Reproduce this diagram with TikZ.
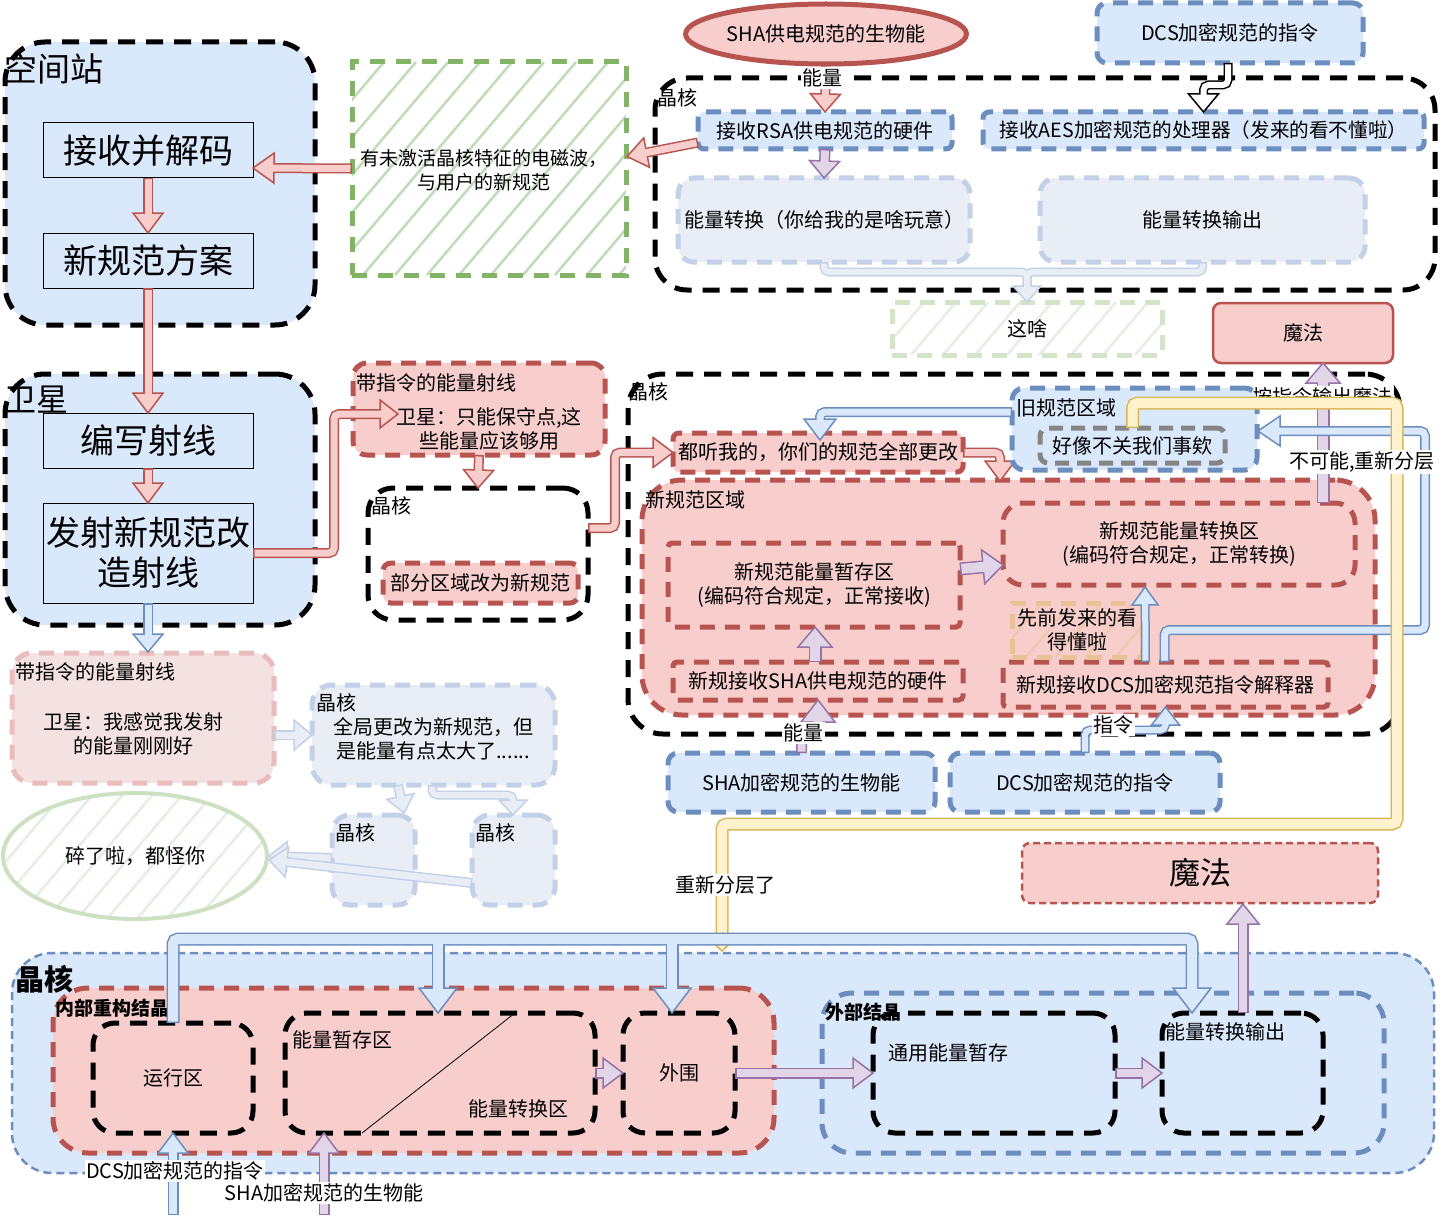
\documentclass[tikz,border=0pt]{standalone}
\usepackage{fontspec}
\setmainfont{Noto Sans CJK SC}
\usetikzlibrary{calc,shapes.geometric}
\definecolor{blueF}{HTML}{DAE8FC}
\definecolor{blueS}{HTML}{6C8EBF}
\definecolor{redF}{HTML}{F8CECC}
\definecolor{redS}{HTML}{B85450}
\definecolor{greenS}{HTML}{82B366}
\definecolor{greenF}{HTML}{D5E8D4}
\definecolor{purpleF}{HTML}{E1D5E7}
\definecolor{purpleS}{HTML}{9673A6}
\definecolor{yellowF}{HTML}{FFF2CC}
\definecolor{yellowS}{HTML}{D6B656}
\definecolor{fadeF}{HTML}{E8EDF6}
\definecolor{fadeS}{HTML}{C3D1E8}
\definecolor{fadeRF}{HTML}{F4E2E2}
\definecolor{fadeRS}{HTML}{E8BDBB}
\definecolor{grayS}{HTML}{858585}
\newcommand\fs[2]{\fontsize{#1}{#2}\selectfont}
% flex arrow pieces
\newcommand\FAo[4]{\draw[draw=#1, line width=#2pt+3pt, shorten >=#3pt-1pt, rounded corners=5pt] #4;}
\newcommand\FAi[4]{\draw[draw=#1, line width=#2pt, shorten >=#3pt-2.5pt, shorten <=1.5pt, rounded corners=5pt] #4;}
\newcommand\FAh[6]{\filldraw[fill=#1, draw=#2, line width=1.5pt, line join=miter] let \p1=($#6-#5$), \n1={atan2(\y1,\x1)} in #6 -- ($#6+(\n1+180:#4pt)+(\n1+90:#3pt)$) -- ($#6+(\n1+180:#4pt)+(\n1-90:#3pt)$) -- cycle;}
% fill, stroke, shaft, head half width, head length, path, prev point, tip
\newcommand\FA[8]{\FAo{#2}{#3}{#5}{#6}\FAh{#1}{#2}{#4}{#5}{#7}{#8}\FAi{#1}{#3}{#5}{#6}}
\newcommand\hatchlines[6]{\foreach \k in {0,...,#6}{\draw[draw=#4, line width=2.5pt] ({#1+\k*#5},#2) -- ++({0.85*#3},{-#3});}}
\tikzset{
 box/.style={anchor=north west, inner sep=0pt, outer sep=0pt, align=center},
 blk/.style={draw=black, line width=5pt, dash pattern=on 17pt off 11pt},
 bdash/.style={draw=blueS, line width=5pt, dash pattern=on 15pt off 10pt},
 rdash/.style={draw=redS, line width=5pt, dash pattern=on 15pt off 10pt},
 fdash/.style={draw=fadeS, line width=5pt, dash pattern=on 15pt off 10pt},
 lbl/.style={anchor=north west, inner sep=0pt, outer sep=0pt},
 tag/.style={fill=white, inner sep=1.5pt},
 sz/.style 2 args={minimum width=#1, minimum height=#2},
 sbox/.style={box, draw=black, line width=1pt, fill=blueF, font=\fs{34}{40}},
}
\begin{document}
\begin{tikzpicture}[x=1pt,y=-1pt,font=\fs{20}{24}]
\useasboundingbox (0,0) rectangle (1447,1225);
\fill[white] (0,0) rectangle (1447,1225);

% ---------- space station
\node[box,blk,fill=blueF,rounded corners=40pt,sz={310}{283}] (st) at (5,42) {};
\node[lbl,font=\fs{33}{36}] (stL) at (5,54) {空间站};
\node[sbox,sz={210}{55}] (recv) at (43,123) {接收并解码};
\node[sbox,sz={210}{55}] (plan) at (43,233) {新规范方案};

% ---------- satellite
\node[box,blk,fill=blueF,rounded corners=40pt,sz={310}{251}] (sat) at (5,374) {};
\node[lbl,font=\fs{32}{36}] (satL) at (5,386) {卫星};
\node[sbox,sz={210}{55}] (write) at (43,413) {编写射线};
\node[sbox,sz={210}{100}] (fire) at (43,503) {发射新规范改\\造射线};

\FA{redF}{redS}{7}{15}{20}{(recv.south) -- (plan.north)}{(recv.south)}{(plan.north)}
\FA{redF}{redS}{7}{15}{20}{(plan.south) -- (write.north)}{(plan.south)}{(write.north)}
\FA{redF}{redS}{7}{15}{20}{(write.south) -- (fire.north)}{(write.south)}{(fire.north)}

% ---------- green hatched wave box
\begin{scope}\clip (352,62) rectangle (626,275); \hatchlines{171}{275}{213}{greenF!75!greenS}{32}{15}\end{scope}
\node[box,draw=greenS,line width=5pt,dash pattern=on 15pt off 11pt,sz={274}{213}] (em) at (352,62) {};
\node[align=center,font=\fs{19}{24}] (emT) at (484,170) {有未激活晶核特征的电磁波，\\与用户的新规范};
\coordinate (t3) at (253,168);
\FA{redF}{redS}{7}{15}{21}{(em.west) -- (t3)}{(em.west)}{(t3)}

% ---------- ray with command
\node[box,rdash,fill=redF,rounded corners=14pt,sz={252}{92}] (cmd1) at (353,363) {};
\node[lbl] (cmd1L) at (356,374) {带指令的能量射线};
\node[align=center] (cmd1T) at (489,429) {卫星：只能保守点,这\\些能量应该够用};
\coordinate (t1) at (398,414);
\coordinate (t1p) at (370,414);
\FA{redF}{redS}{7}{14}{18}{(fire.east) -- ++(81,0) |- (t1)}{(t1p)}{(t1)}

\node[box,blk,rounded corners=25pt,sz={220}{132}] (core1) at (368,488) {};
\node[lbl] (core1L) at (371,497) {晶核};
\node[box,rdash,fill=redF,rounded corners=8pt,sz={195}{40}] (part) at (383,563) {部分区域改为新规范};
\FA{redF}{redS}{7}{15}{18}{(cmd1.south) -- (core1.north)}{(cmd1.south)}{(core1.north)}

% ---------- faded branch
\node[box,draw=fadeRS,line width=5pt,dash pattern=on 15pt off 10pt,fill=fadeRF,rounded corners=20pt,sz={262}{130}] (fcmd) at (12,653) {};
\node[lbl] (fcmdL) at (15,663) {带指令的能量射线};
\node[align=center] (fcmdT) at (133,734) {卫星：我感觉我发射\\的能量刚刚好};
\coordinate (t2) at (148,652);
\FA{blueF}{blueS}{7}{15}{18}{(fire.south) -- (t2)}{(fire.south)}{(t2)}

\node[box,fdash,fill=fadeF,rounded corners=20pt,sz={243}{100}] (fcore) at (312,685) {};
\node[lbl] (fcoreL) at (316,694) {晶核};
\node[align=center] (fcoreT) at (433,739) {全局更改为新规范，但\\是能量有点太大了......};
\coordinate (f0) at ($(fcmd.east)+(0,17)$);
\FA{fadeF}{fadeS}{7}{15}{18}{(f0) -- (fcore.west)}{(f0)}{(fcore.west)}

\node[box,fdash,fill=fadeF,rounded corners=18pt,sz={83}{90}] (fcA) at (332,815) {};
\node[lbl] (fcAL) at (335,824) {晶核};
\node[box,fdash,fill=fadeF,rounded corners=18pt,sz={83}{90}] (fcB) at (472,815) {};
\node[lbl] (fcBL) at (475,824) {晶核};
\coordinate (f1) at ($(fcore.south west)+(86,0)$);
\coordinate (t11) at (404,813);
\FA{fadeF}{fadeS}{7}{14}{17}{(f1) -- (t11)}{(f1)}{(t11)}
\coordinate (f2) at ($(fcore.south west)+(120,0)$);
\coordinate (t12) at (513,815);
\coordinate (f2b) at (513,795);
\FA{fadeF}{fadeS}{6}{14}{15}{(f2) |- (f2b) -- (t12)}{(f2b)}{(t12)}

\begin{scope}\clip (135,856) ellipse[x radius=132, y radius=63]; \hatchlines{-104}{920}{126}{greenF!70!white}{30}{13}\end{scope}
\node[ellipse,draw=greenS!40,line width=4pt,sz={264}{126},inner sep=0pt] (broken) at (135,856) {碎了啦，都怪你};
\coordinate (f3) at ($(fcA.west)+(0,-2)$);
\FA{fadeF}{fadeS}{7}{15}{18}{(f3) -- (broken.east)}{(f3)}{(broken.east)}
\coordinate (f4) at ($(fcB.west)+(0,23)$);
\coordinate (t13) at ($(broken.east)+(0,4)$);
\FA{fadeF}{fadeS}{7}{15}{18}{(f4) -- (t13)}{(f4)}{(t13)}

% ---------- top core
\node[box,blk,rounded corners=32pt,sz={780}{212}] (core0) at (655,78) {};
\node[lbl] (core0L) at (657,89) {晶核};
\node[ellipse,draw=redS,fill=redF,line width=5pt,sz={266}{60},inner sep=0pt] (sha1) at (826,34) {SHA供电规范的生物能};
\node[box,bdash,fill=blueF,rounded corners=10pt,sz={266}{60}] (dcs1) at (1097,3) {DCS加密规范的指令};
\node[box,bdash,fill=blueF,rounded corners=6pt,sz={254}{37}] (rsa) at (698,112) {接收RSA供电规范的硬件};
\node[box,bdash,fill=blueF,rounded corners=6pt,sz={441}{37},font=\fs{19.6}{24}] (aes) at (983,112) {接收AES加密规范的处理器（发来的看不懂啦）};
\node[box,fdash,fill=fadeF,rounded corners=16pt,sz={292}{84}] (conv0) at (678,178) {能量转换（你给我的是啥玩意）};
\node[box,fdash,fill=fadeF,rounded corners=16pt,sz={325}{84}] (out0) at (1040,178) {能量转换输出};
\begin{scope}\clip (892,302) rectangle (1162,355); \hatchlines{847}{355}{53}{greenF!70!white}{32}{10}\end{scope}
\node[box,draw=greenS!35,line width=5pt,dash pattern=on 15pt off 10pt,sz={270}{53}] (what) at (892,302) {这啥};
\node[box,draw=redS,fill=redF,line width=2.5pt,rounded corners=8pt,sz={180}{60}] (magic1) at (1213,303) {魔法};

\FA{redF}{redS}{7}{15}{18}{(sha1.south) -- (rsa.north)}{(sha1.south)}{(rsa.north)}
\node[tag] (e1) at (822,78) {能量};
\coordinate (w0) at ($(dcs1.south)+(-2,0)$);
\coordinate (w1) at ($(aes.north)+(0,-27)$);
\FA{white}{black}{6}{15}{18}{(w0) |- (w1) -- (aes.north)}{(w1)}{(aes.north)}
\FA{purpleF}{purpleS}{8}{15}{17}{(rsa.south) -- (conv0.north)}{(rsa.south)}{(conv0.north)}
\coordinate (r0) at ($(rsa.west)+(0,12)$);
\coordinate (r1) at ($(em.east)+(1,-12)$);
\FA{redF}{redS}{7}{15}{20}{(r0) -- (r1)}{(r0)}{(r1)}
\coordinate (j1) at ($(what.north)+(0,-30)$);
\FAo{fadeS}{6}{16}{(conv0.south) |- (j1) -- (what.north)}
\FAo{fadeS}{6}{16}{(out0.south) |- (j1) -- (what.north)}
\FAh{fadeF}{fadeS}{14}{16}{(j1)}{(what.north)}
\FAi{fadeF}{6}{16}{(conv0.south) |- (j1) -- (what.north)}
\FAi{fadeF}{6}{16}{(out0.south) |- (j1) -- (what.north)}

% ---------- right middle core
\node[box,blk,rounded corners=35pt,sz={772}{360}] (core2) at (628,374) {};
\node[lbl] (core2L) at (628,383) {晶核};
\node[box,rdash,fill=redF,rounded corners=6pt,sz={290}{39}] (tell) at (673,433) {都听我的，你们的规范全部更改};
\coordinate (c0) at ($(core1.east)+(0,-26)$);
\coordinate (c1) at ($(tell.west)+(-30,0)$);
\FA{redF}{redS}{7}{15}{20}{(c0) -- ++(27,0) |- (tell.west)}{(c1)}{(tell.west)}

\node[box,rdash,fill=redF,rounded corners=40pt,sz={733}{235}] (newz) at (642,480) {};
\node[lbl] (newzL) at (645,491) {新规范区域};
\coordinate (t5) at (1000,481);
\coordinate (t5p) at (1000,452);
\FA{redF}{redS}{7}{15}{20}{(tell.east) -| (t5)}{(t5p)}{(t5)}

\node[box,rdash,rounded corners=4pt,sz={292}{84}] (nstore) at (668,543) {新规范能量暂存区\\(编码符合规定，正常接收)};
\node[box,rdash,rounded corners=20pt,sz={352}{82}] (nconv) at (1003,503) {新规范能量转换区\\(编码符合规定，正常转换)};
\node[box,rdash,rounded corners=4pt,sz={290}{38}] (nsha) at (673,662) {新规接收SHA供电规范的硬件};
\node[box,rdash,rounded corners=4pt,sz={325}{45}] (ndcs) at (1003,662) {新规接收DCS加密规范指令解释器};
\begin{scope}\clip (1012,603) rectangle (1142,657); \hatchlines{966}{657}{54}{yellowS!25!redF}{30}{7}\end{scope}
\node[box,draw=yellowS!45!redF,line width=5pt,dash pattern=on 15pt off 10pt,sz={130}{54}] (prior) at (1012,603) {先前发来的看\\得懂啦};

\coordinate (n0) at ($(nstore.east)+(0,-16)$);
\coordinate (n1) at ($(nconv.west)+(0,21)$);
\FA{purpleF}{purpleS}{10}{17}{20}{(n0) -- (n1)}{(n0)}{(n1)}
\coordinate (n2) at ($(nsha.north)+(-3,0)$);
\coordinate (n3) at ($(nstore.south)+(1,0)$);
\FA{purpleF}{purpleS}{10}{17}{20}{(n2) -- (n3)}{(n2)}{(n3)}
\coordinate (n4) at ($(ndcs.north)+(-20,0)$);
\coordinate (t7) at (1145,587);
\FA{blueF}{blueS}{6}{13}{18}{(n4) -- (t7)}{(n4)}{(t7)}
\coordinate (n5) at ($(nconv.north east)+(-32,0)$);
\coordinate (n6) at ($(magic1.south)+(20,0)$);
\FA{purpleF}{purpleS}{10}{17}{20}{(n5) -- (n6)}{(n5)}{(n6)}
\node[tag] (mlab) at (1322,397) {按指令输出魔法};

\node[box,bdash,fill=blueF,rounded corners=12pt,sz={245}{82}] (old) at (1012,388) {};
\node[lbl] (oldL) at (1016,399) {旧规范区域};
\node[box,draw=grayS,line width=5pt,dash pattern=on 14pt off 8pt,fill=blueF,rounded corners=8pt,sz={185}{35}] (notus) at (1040,428) {好像不关我们事欸};
\coordinate (o0) at ($(old.west)+(0,-17)$);
\coordinate (t6) at (820,440);
\coordinate (t6p) at (820,412);
\FA{blueF}{blueS}{7}{16}{21}{(o0) -| (t6)}{(t6p)}{(t6)}

% lower blue boxes
\node[box,bdash,fill=blueF,rounded corners=10pt,sz={267}{59}] (sha2) at (668,753) {SHA加密规范的生物能};
\node[box,bdash,fill=blueF,rounded corners=10pt,sz={270}{59}] (dcs2) at (950,753) {DCS加密规范的指令};
\coordinate (s1) at ($(nsha.south)+(0,28)$);
\FA{purpleF}{purpleS}{8}{17}{22}{(sha2.north) |- (s1) -- (nsha.south)}{(s1)}{(nsha.south)}
\node[tag] (e2) at (803,733) {能量};
\coordinate (d1) at ($(ndcs.south)+(0,23)$);
\FA{blueF}{blueS}{6}{14}{18}{(dcs2.north) |- (d1) -- (ndcs.south)}{(d1)}{(ndcs.south)}
\node[tag] (e3) at (1113,725) {指令};

% "impossible" arrow
\coordinate (g0) at ($(ndcs.north)+(-1,0)$);
\coordinate (g1) at (1425,630);
\coordinate (t8) at ($(old.east)+(1,2)$);
\coordinate (t8p) at (1300,431);
\FA{blueF}{blueS}{7}{15}{22}{(g0) |- (g1) |- (t8)}{(t8p)}{(t8)}

% yellow arrow
\coordinate (y1) at (1397,403);
\coordinate (y2) at (722,824);
\coordinate (t9) at (722,951);
\FA{yellowF}{yellowS}{10}{17}{16}{(notus.north) |- (y1) |- (y2) -- (t9)}{(y2)}{(t9)}
\node[tag] (nolab) at (1362,462) {不可能,重新分层};
\node[tag] (e6) at (725,885) {重新分层了};

% ---------- bottom
\node[box,draw=redS,fill=redF,line width=2.5pt,dash pattern=on 7pt off 4pt,rounded corners=8pt,sz={356}{60},font=\fs{31}{36}] (magic2) at (1022,843) {魔法};
\node[box,draw=blueS,fill=blueF,line width=2.5pt,dash pattern=on 8pt off 5pt,rounded corners=40pt,sz={1422}{220}] (core3) at (12,953) {};
\node[lbl,font=\bfseries\fs{29}{32}] (core3L) at (15,965) {晶核};
\node[box,rdash,fill=redF,rounded corners=35pt,sz={721}{165}] (inner) at (53,988) {};
\node[lbl,font=\bfseries\fs{19}{22}] (innerL) at (55,999) {内部重构结晶};
\node[box,blk,rounded corners=22pt,sz={160}{110}] (run) at (93,1023) {运行区};
\node[box,blk,rounded corners=22pt,sz={310}{120}] (store) at (285,1013) {};
\node[lbl] (storeL1) at (292,1031) {能量暂存区};
\node[lbl] (storeL2) at (468,1100) {能量转换区};
\draw[line width=0.8pt] ($(store.north west)+(230,0)$) -- ($(store.south west)+(77,0)$);
\node[box,blk,rounded corners=22pt,sz={112}{120}] (outer) at (623,1013) {外围};
\node[box,bdash,rounded corners=30pt,sz={562}{160}] (ext) at (822,993) {};
\node[lbl,font=\bfseries\fs{19}{22}] (extL) at (825,1003) {外部结晶};
\node[box,blk,rounded corners=22pt,sz={242}{120}] (gstore) at (873,1013) {};
\node[lbl] (gstoreL) at (888,1044) {通用能量暂存};
\node[box,blk,rounded corners=22pt,sz={161}{120}] (gout) at (1162,1013) {};
\node[lbl] (goutL) at (1165,1023) {能量转换输出};

\FA{purpleF}{purpleS}{8}{15}{20}{(store.east) -- (outer.west)}{(store.east)}{(outer.west)}
\FA{purpleF}{purpleS}{8}{15}{20}{(outer.east) -- (gstore.west)}{(outer.east)}{(gstore.west)}
\FA{purpleF}{purpleS}{8}{15}{20}{(gstore.east) -- (gout.west)}{(gstore.east)}{(gout.west)}
\coordinate (q0) at ($(gout.north)+(0.5,0)$);
\coordinate (t10) at (1243,904);
\FA{purpleF}{purpleS}{8}{16}{20}{(q0) -- (t10)}{(q0)}{(t10)}

% big blue distribution arrow
\coordinate (bt1) at ($(store.north west)+(153,0)$);
\coordinate (bt2) at ($(outer.north)+(-7,0)$);
\coordinate (bt3) at ($(gout.north west)+(30,0)$);
\coordinate (bm) at (bt3|-0,939);
\coordinate (bj1) at (bt1|-bm);
\coordinate (bj2) at (bt2|-bm);
\FAo{blueS}{10}{25}{(run.north) |- (bm) -- (bt3)}
\FAo{blueS}{10}{25}{(bj1) -- (bt1)}
\FAo{blueS}{10}{25}{(bj2) -- (bt2)}
\FAh{blueF}{blueS}{19}{25}{(bm)}{(bt3)}
\FAh{blueF}{blueS}{19}{25}{(bj1)}{(bt1)}
\FAh{blueF}{blueS}{19}{25}{(bj2)}{(bt2)}
\FAi{blueF}{10}{25}{(run.north) |- (bm) -- (bt3)}
\FAi{blueF}{10}{25}{(bj1) -- (bt1)}
\FAi{blueF}{10}{25}{(bj2) -- (bt2)}

\coordinate (b1) at (173,1215);
\coordinate (b2) at (324,1215);
\coordinate (b3) at ($(store.south west)+(39,0)$);
\FA{blueF}{blueS}{8}{15}{20}{(b1) -- (run.south)}{(b1)}{(run.south)}
\FA{purpleF}{purpleS}{8}{15}{20}{(b2) -- (b3)}{(b2)}{(b3)}
\node[tag] (e4) at (175,1171) {DCS加密规范的指令};
\node[tag] (e5) at (324,1193) {SHA加密规范的生物能};
\end{tikzpicture}
\end{document}
